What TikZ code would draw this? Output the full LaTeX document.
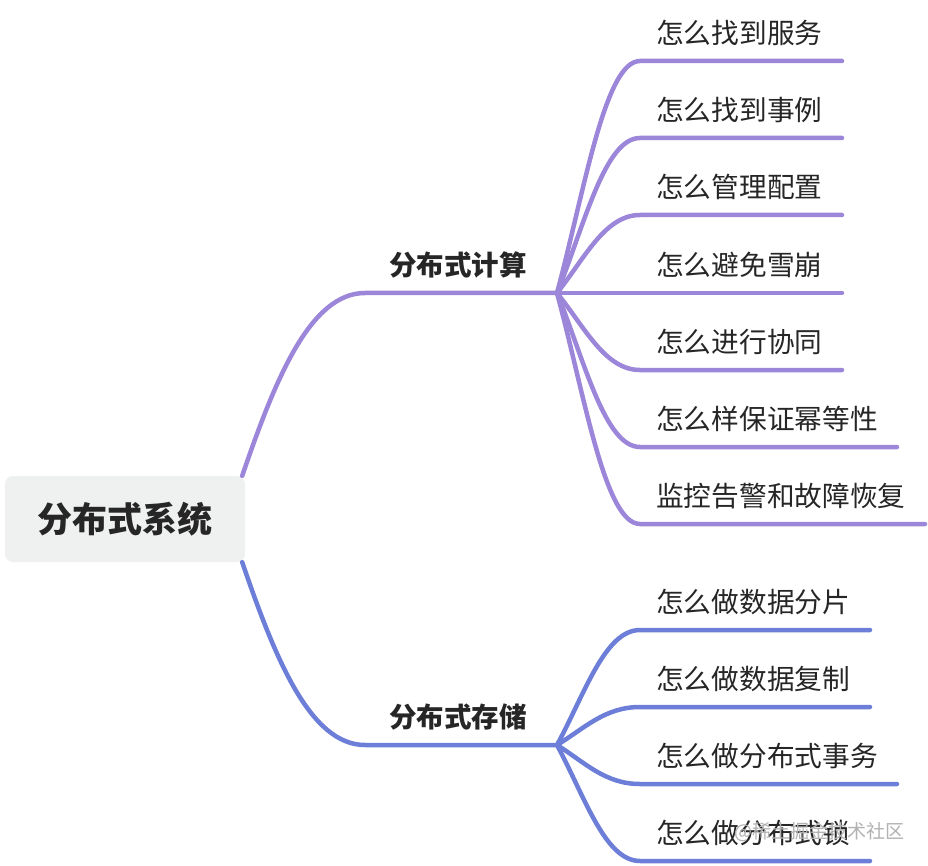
\documentclass[tikz,border=0pt]{standalone}
\usepackage{fontspec}
\setmainfont{Noto Sans CJK SC}
\usetikzlibrary{calc}
\definecolor{cA}{HTML}{9B86D9}
\definecolor{cB}{HTML}{6C7ED8}
\definecolor{rootfill}{HTML}{EFF0F0}
\definecolor{txt}{HTML}{262626}
\begin{document}
\begin{tikzpicture}[x=1pt,y=-1pt,
  rootbox/.style={fill=rootfill,rounded corners=8pt,minimum width=240pt,minimum height=86pt,inner sep=0pt,text=txt,font=\fontsize{35}{40}\selectfont\bfseries},
  branchlbl/.style={inner sep=0pt,text=txt,font=\fontsize{27.5}{32}\selectfont\bfseries},
  leaflbl/.style={inner sep=0pt,anchor=west,text=txt,font=\fontsize{27.7}{32}\selectfont},
  linkA/.style={draw=cA,line width=4.5pt,line cap=round,line join=round},
  linkB/.style={draw=cB,line width=4.5pt,line cap=round,line join=round},
  wm/.style={inner sep=0pt,anchor=east,text=black!30,font=\fontsize{19}{22}\selectfont}]
\useasboundingbox (0,0) rectangle (928,866);
\fill[white] (0,0) rectangle (928,866);

% root
\node[rootbox] (root) at (125,519) {分布式系统};
\coordinate (rA) at ($(root.north east)+(-3,0)$);
\coordinate (rB) at ($(root.south east)+(-3,0)$);

% branch nodes
\node[branchlbl] (b1) at (458,265) {分布式计算};
\node[branchlbl] (b2) at (458,717) {分布式存储};
\coordinate (b1s) at (365,293);
\coordinate (b2s) at (365,745);
\coordinate (j1) at (557,293);
\coordinate (j2) at (557,745);

\draw[linkA] (rA) .. controls (275,380) and (310,293) .. (b1s) -- (j1);
\draw[linkB] (rB) .. controls (275,658) and (310,745) .. (b2s) -- (j2);

% leaves of branch 1
\foreach \y/\t/\e [count=\i] in {61/怎么找到服务/842,138/怎么找到事例/842,215/怎么管理配置/842,293/怎么避免雪崩/842,370/怎么进行协同/842,447/怎么样保证幂等性/897,524/监控告警和故障恢复/925}{
  \node[leaflbl] (a\i) at (656,\y-28) {\t};
  \coordinate (a\i s) at (640,\y);
  \coordinate (a\i e) at (\e,\y);
  \draw[linkA] (j1) .. controls ($(j1)+(28,{(\y-293)*0.45})$) and (605,\y) .. (a\i s) -- (a\i e);
}

% leaves of branch 2
\foreach \y/\t/\e [count=\i] in {630/怎么做数据分片/870,707/怎么做数据复制/870,784/怎么做分布式事务/897,861/怎么做分布式锁/870}{
  \node[leaflbl] (s\i) at (656,\y-28) {\t};
  \coordinate (s\i s) at (640,\y);
  \coordinate (s\i e) at (\e,\y);
  \draw[linkB] (j2) .. controls ($(j2)+(28,{(\y-745)*0.45})$) and (605,\y) .. (s\i s) -- (s\i e);
}

% watermark
\node[wm] (wmk) at (905,832) {@稀土掘金技术社区};
\end{tikzpicture}
\end{document}
